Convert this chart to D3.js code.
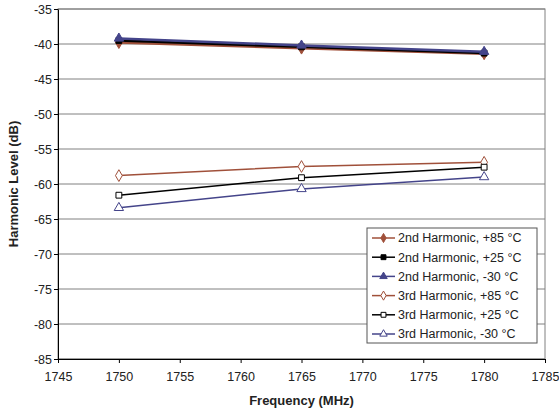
<!DOCTYPE html>
<html>
<head>
<meta charset="utf-8">
<script src="https://cdn.jsdelivr.net/npm/d3@7"></script>
<style>
  body { margin: 0; background: #fff; }
  text { font-family: "Liberation Sans", Arial, sans-serif; }
</style>
</head>
<body>
<div id="chart"></div>
<script>
// data
var freqs = [1750, 1765, 1780];
var seriesNames = [
    "2nd Harmonic, +85 °C", "2nd Harmonic, +25 °C", "2nd Harmonic, -30 °C",
    "3rd Harmonic, +85 °C", "3rd Harmonic, +25 °C", "3rd Harmonic, -30 °C"
];
var h2_85 = [-39.8, -40.6, -41.4];
var h2_25 = [-39.5, -40.4, -41.3];
var h2_m30 = [-39.2, -40.2, -41.1];
var h3_85 = [-58.8, -57.5, -56.9];
var h3_25 = [-61.6, -59.1, -57.6];
var h3_m30 = [-63.4, -60.7, -59.0];
var xTicks = [1745, 1750, 1755, 1760, 1765, 1770, 1775, 1780, 1785];
var yTicks = [-35, -40, -45, -50, -55, -60, -65, -70, -75, -80, -85];

var brown = "#a0503a", black = "#000000", navy = "#44448a";

var series = [
    { name: seriesNames[0], values: h2_85, color: brown, symbol: d3.symbolDiamond, filled: true, width: 2.5 },
    { name: seriesNames[1], values: h2_25, color: black, symbol: d3.symbolSquare, filled: true, width: 2.5 },
    { name: seriesNames[2], values: h2_m30, color: navy, symbol: d3.symbolTriangle, filled: true, width: 2.5 },
    { name: seriesNames[3], values: h3_85, color: brown, symbol: d3.symbolDiamond, filled: false, width: 1.5 },
    { name: seriesNames[4], values: h3_25, color: black, symbol: d3.symbolSquare, filled: false, width: 1.5 },
    { name: seriesNames[5], values: h3_m30, color: navy, symbol: d3.symbolTriangle, filled: false, width: 1.5 }
];

var W = 559, H = 415;
var margin = { top: 9, right: 14, bottom: 56, left: 58 };
var width = W - margin.left - margin.right,
    height = H - margin.top - margin.bottom;

var svg = d3.select("#chart").append("svg")
    .attr("width", W)
    .attr("height", H);

var g = svg.append("g")
    .attr("transform", "translate(" + margin.left + "," + margin.top + ")");

var x = d3.scaleLinear().domain([1745, 1785]).range([0, width]);
var y = d3.scaleLinear().domain([-85, -35]).range([height, 0]);

// gridlines
g.selectAll(".grid").data(yTicks).enter().append("line")
    .attr("class", "grid")
    .attr("x1", 0).attr("x2", width)
    .attr("y1", function(d) { return y(d); })
    .attr("y2", function(d) { return y(d); })
    .attr("stroke", "#808080")
    .attr("stroke-width", 1);

// plot border (top/right)
g.append("rect")
    .attr("x", 0).attr("y", 0)
    .attr("width", width).attr("height", height)
    .attr("fill", "none")
    .attr("stroke", "#808080")
    .attr("stroke-width", 1);

// axes - plain hyphen minus like the original
var fmt = function(d) { return String(d); };
var xAxis = g.append("g")
    .attr("transform", "translate(0," + height + ")")
    .call(d3.axisBottom(x).tickValues(xTicks).tickFormat(fmt).tickSize(4).tickSizeOuter(0));
var yAxis = g.append("g")
    .call(d3.axisLeft(y).tickValues(yTicks).tickFormat(fmt).tickSize(4).tickSizeOuter(0));

[xAxis, yAxis].forEach(function(a) {
    a.select(".domain").attr("stroke", "#000");
    a.selectAll(".tick line").attr("stroke", "#000");
    a.selectAll(".tick text")
        .attr("fill", "#222")
        .style("font-size", "12.5px")
        .style("font-family", "Liberation Sans, Arial, sans-serif");
});
xAxis.selectAll(".tick text").attr("dy", "1.2em");
yAxis.selectAll(".tick text").attr("x", -6);

// axis titles
svg.append("text")
    .attr("x", margin.left + width / 2)
    .attr("y", 405)
    .attr("text-anchor", "middle")
    .style("font-size", "13px")
    .style("font-weight", "bold")
    .attr("fill", "#222")
    .text("Frequency (MHz)");

svg.append("text")
    .attr("transform", "translate(18," + (margin.top + height / 2) + ") rotate(-90)")
    .attr("text-anchor", "middle")
    .style("font-size", "13px")
    .style("font-weight", "bold")
    .attr("fill", "#222")
    .text("Harmonic Level (dB)");

var line = d3.line()
    .x(function(d, i) { return x(freqs[i]); })
    .y(function(d) { return y(d); });

function symbolSize(s) {
    return s.symbol === d3.symbolTriangle ? 38 : (s.symbol === d3.symbolSquare ? 34 : 40);
}

// draw 3rd harmonics first, 2nd on top
var order = [3, 4, 5, 0, 1, 2];
order.forEach(function(k) {
    var s = series[k];
    var sg = g.append("g");
    sg.append("path")
        .datum(s.values)
        .attr("d", line)
        .attr("fill", "none")
        .attr("stroke", s.color)
        .attr("stroke-width", s.width);
    sg.selectAll("path.marker").data(s.values).enter().append("path")
        .attr("class", "marker")
        .attr("transform", function(d, i) { return "translate(" + x(freqs[i]) + "," + y(d) + ")"; })
        .attr("d", d3.symbol().type(s.symbol).size(symbolSize(s)))
        .attr("fill", s.filled ? s.color : "#fff")
        .attr("stroke", s.color)
        .attr("stroke-width", 1);
});

// legend
var lx = 367, ly = 228, lw = 170, lh = 115, rowH = 19.2;
var legend = svg.append("g");
legend.append("rect")
    .attr("x", lx).attr("y", ly)
    .attr("width", lw).attr("height", lh)
    .attr("fill", "#fff")
    .attr("stroke", "#555")
    .attr("stroke-width", 1);

var rows = legend.selectAll(".row").data(series).enter().append("g")
    .attr("transform", function(d, i) { return "translate(" + (lx + 5) + "," + (ly + 10 + i * rowH) + ")"; });
rows.append("line")
    .attr("x1", 0).attr("x2", 23)
    .attr("stroke", function(d) { return d.color; })
    .attr("stroke-width", 1.5);
rows.append("path")
    .attr("transform", "translate(11.5,0)")
    .attr("d", function(d) { return d3.symbol().type(d.symbol).size(24)(); })
    .attr("fill", function(d) { return d.filled ? d.color : "#fff"; })
    .attr("stroke", function(d) { return d.color; })
    .attr("stroke-width", 1);
rows.append("text")
    .attr("x", 26)
    .attr("dy", "0.35em")
    .style("font-size", "12.5px")
    .attr("fill", "#222")
    .text(function(d) { return d.name; });
</script>
</body>
</html>
